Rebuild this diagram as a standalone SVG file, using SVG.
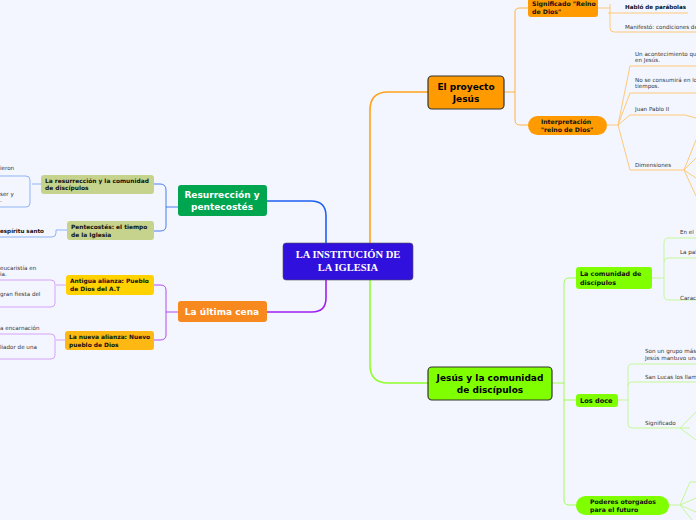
<svg xmlns="http://www.w3.org/2000/svg" width="696" height="520" viewBox="0 0 696 520">
<style>
text{font-family:"DejaVu Sans",Verdana,sans-serif}
.b{font-weight:bold;fill:#111}
.s{font-size:5.6px;fill:#333}
.sb{font-size:5.6px;fill:#111;font-weight:bold}
.m{font-weight:bold;font-size:9px}
.c{fill:none;stroke-width:1}
.o{stroke:#ffc978}.g{stroke:#c5f79a}.bl{stroke:#8fb4f5}.p{stroke:#d7a3f7}
</style>
<rect width="696" height="520" fill="#f3f6fe"/>
<g id="connectors" fill="none">
<path d="M370,243 V110 Q370,92 388,92 H428" stroke="#ffa21a" stroke-width="1.6"/>
<path d="M370,280 V365 Q370,383 388,383 H428" stroke="#8fff2a" stroke-width="1.6"/>
<path d="M326,243 V216 Q326,201 311,201 H267" stroke="#1f5ff0" stroke-width="1.6"/>
<path d="M326,280 V298 Q326,312 312,312 H267" stroke="#a020f0" stroke-width="1.6"/>
<g class="c" stroke="#ffa21a" stroke-opacity="0.8"><path d="M504,92 H515 M515,12 V120 Q515,125 520,125 H528 M515,12 Q515,8 520,8 H528"/></g>
<g class="c o">
<path d="M598,8 H610 M608,13 H688 M610,4 V28 Q610,32 614,32 H696"/>
<path d="M607,125 H618 L630,66 H696 M618,125 L630,93 H696 M618,125 L630,115 H685 L696,118 M618,125 L630,170 H684 M684,170 L696,140 M684,170 L696,158 M684,170 L696,178 M684,170 L696,196"/>
</g>
<g class="c" stroke="#8fff2a" stroke-opacity="0.8"><path d="M552,383 H564 M569,278 H576 M564,283 V500 Q564,505 569,505 H576 M564,400 H576 M564,283 Q564,278 569,278"/></g>
<g class="c g">
<path d="M652,278 H664 M664,243 V295 Q664,300 668,300 H696 M664,243 Q664,238 668,238 H696 M664,262 Q664,258 668,258 H696"/>
<path d="M618,400 H628 M628,369 V424 Q628,428 632,428 H690 M628,369 Q628,364 632,364 H696 M628,386 Q628,382 632,382 H696 M680,428 L696,412 M680,428 L696,440"/>
<path d="M669,505 H680 L690,482 H696 M680,505 L696,498 M680,505 L696,512 M680,505 L692,520"/>
</g>
<g class="c" stroke="#1f5ff0" stroke-opacity="0.8"><path d="M154,184 H160 Q166,184 166,190 V226 Q166,231 160,231 H154 M166,207 H178"/></g>
<g class="c bl">
<path d="M41,184 H32 M0,176 H26 Q30,176 30,180 V203 Q30,207 26,207 H0 M0,237 H52 Q56,237 56,233 V230 H67"/>
</g>
<g class="c" stroke="#a020f0" stroke-opacity="0.8"><path d="M154,285 H160 Q166,285 166,290 V335 Q166,340 160,340 H154 M166,312 H178"/></g>
<g class="c p">
<path d="M66,285 H56 M0,280 H51 Q55,280 55,284 V303 Q55,307 51,307 H0 M65,340 H56 M0,334 H51 Q55,334 55,338 V355 Q55,359 51,359 H0"/>
</g>
</g>
<g id="center"><rect x="283" y="243" width="130" height="37" rx="3" fill="#3010dc" stroke="#555" stroke-width="0.6"/>
<text x="348" y="258" text-anchor="middle" style="font-family:'Liberation Serif',serif" font-weight="bold" font-size="10.5" fill="#fff">LA INSTITUCIÓN DE</text>
<text x="348" y="271" text-anchor="middle" style="font-family:'Liberation Serif',serif" font-weight="bold" font-size="10.5" fill="#fff">LA IGLESIA</text></g>
<g id="proyecto"><rect x="428" y="76" width="76" height="33" rx="4" fill="#ff9b00" stroke="#333" stroke-width="1.2"/>
<text class="m" x="466" y="90" text-anchor="middle" font-size="9.5">El proyecto</text><text class="m" x="466" y="102" text-anchor="middle" font-size="9.5">Jesús</text></g>
<g id="significado"><rect x="528" y="-6" width="70" height="23" rx="3" fill="#ff9b00"/>
<text class="b" x="532" y="6" font-size="6.2">Significado "Reino</text><text class="b" x="532" y="14" font-size="6.2">de Dios"</text></g>
<g id="interpretacion"><rect x="528" y="116" width="79" height="19" rx="9.5" fill="#ff9b00"/>
<text class="b" x="566" y="124" font-size="6.2" text-anchor="middle">Interpretación</text><text class="b" x="567" y="132" font-size="6.2" text-anchor="middle">"reino de Dios"</text></g>
<g id="l-proyecto">
<text class="sb" x="625" y="9">Habló de parábolas</text>
<text class="s" x="625" y="29">Manifestó: condiciones de</text>
<text class="s" x="635" y="56">Un acontecimiento que</text><text class="s" x="635" y="62">en Jesús.</text>
<text class="s" x="635" y="82">No se consumirá en los</text><text class="s" x="635" y="88">tiempos.</text>
<text class="s" x="635" y="111">Juan Pablo II</text>
<text class="s" x="635" y="167">Dimensiones</text>
</g>
<g id="jesus"><rect x="428" y="367" width="124" height="33" rx="4" fill="#80ff00" stroke="#333" stroke-width="1.2"/>
<text class="m" x="490" y="381" text-anchor="middle">Jesús y la comunidad</text><text class="m" x="490" y="393" text-anchor="middle">de discípulos</text></g>
<g id="comunidad"><rect x="576" y="267" width="76" height="22" rx="3" fill="#80ff00"/>
<text class="b" x="580" y="276" font-size="6.4">La comunidad de</text><text class="b" x="580" y="285" font-size="6.4">discípulos</text></g>
<g id="doce"><rect x="576" y="394" width="42" height="13" rx="3" fill="#80ff00"/><text class="b" x="580" y="403" font-size="6.6">Los doce</text></g>
<g id="poderes"><rect x="576" y="496" width="93" height="19" rx="9.5" fill="#80ff00"/>
<text class="b" x="590" y="504" font-size="6.2">Poderes otorgados</text><text class="b" x="590" y="512" font-size="6.2">para el futuro</text></g>
<g id="l-jesus">
<text class="s" x="680" y="234">En el</text><text class="s" x="680" y="254">La pal</text><text class="s" x="680" y="300">Carac</text>
<text class="s" x="645" y="353">Son un grupo más</text><text class="s" x="645" y="360">Jesús mantuvo una</text>
<text class="s" x="645" y="379">San Lucas los llam</text><text class="s" x="645" y="425">Significado</text>
</g>
<g id="resurreccion"><rect x="178" y="185" width="89" height="31" rx="3" fill="#00a550"/>
<text class="m" x="222" y="198" text-anchor="middle" fill="#fff">Resurrección y</text><text class="m" x="222" y="210" text-anchor="middle" fill="#fff">pentecostés</text></g>
<g id="resur-com"><rect x="41" y="175" width="113" height="19" rx="3" fill="#c6d38d"/>
<text class="b" x="45" y="183" font-size="5.9">La resurrección y la comunidad</text><text class="b" x="45" y="190" font-size="5.9">de discípulos</text></g>
<g id="pentecostes"><rect x="67" y="221" width="87" height="19" rx="3" fill="#c6d38d"/>
<text class="b" x="71" y="229" font-size="5.9">Pentecostés: el tiempo</text><text class="b" x="71" y="237" font-size="5.9">de la Iglesia</text></g>
<g id="l-resur">
<text class="s" x="0" y="170">ieron</text><text class="s" x="0" y="196">ser y</text><text class="s" x="0" y="202">.</text>
<text class="sb" x="0" y="233">espíritu santo</text>
</g>
<g id="cena"><rect x="178" y="301" width="89" height="21" rx="3" fill="#f7891f"/>
<text class="m" x="222" y="315" text-anchor="middle" fill="#fff">La última cena</text></g>
<g id="antigua"><rect x="66" y="275" width="88" height="20" rx="3" fill="#ffd200"/>
<text class="b" x="70" y="283" font-size="5.9">Antigua alianza: Pueblo</text><text class="b" x="70" y="291" font-size="5.9">de Dios del A.T</text></g>
<g id="nueva"><rect x="65" y="331" width="89" height="19" rx="3" fill="#fdb813"/>
<text class="b" x="69" y="339" font-size="5.9">La nueva alianza: Nuevo</text><text class="b" x="69" y="347" font-size="5.9">pueblo de Dios</text></g>
<g id="l-cena">
<text class="s" x="0" y="270">eucaristía en</text><text class="s" x="0" y="276">ia.</text>
<text class="s" x="0" y="296">gran fiesta del</text>
<text class="s" x="0" y="330">a encarnación</text><text class="s" x="0" y="349">liador de una</text>
</g>
</svg>
